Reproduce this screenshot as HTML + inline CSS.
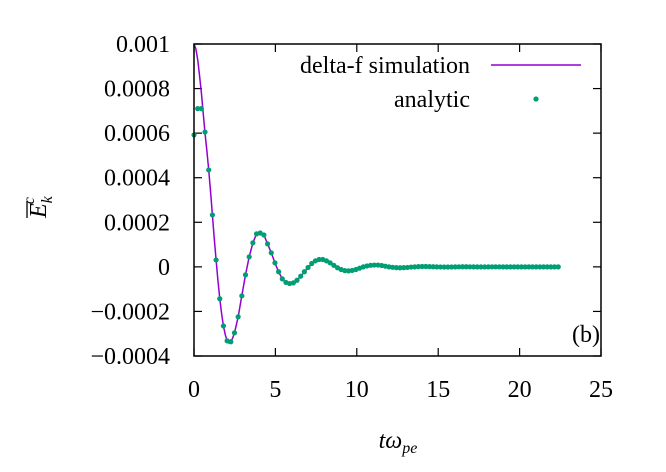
<!DOCTYPE html>
<html><head><meta charset="utf-8"><style>
body{margin:0;background:#fff}
svg text{font-family:"Liberation Serif",serif;fill:#000}
</style></head><body>
<svg id="chart" width="666" height="467" viewBox="0 0 666 467" xmlns="http://www.w3.org/2000/svg">
<g id="ticks"></g>
<polyline id="simline" fill="none" stroke="#9400d3" stroke-width="1.5" stroke-linejoin="round"/>
<g id="pts"></g>
<rect x="194" y="44" width="407" height="312" fill="none" stroke="#000" stroke-width="1.5"/>
<text x="470" y="73" font-size="24" text-anchor="end">delta-f simulation</text>
<line x1="491" y1="65" x2="581" y2="65" stroke="#9400d3" stroke-width="1.5"/>
<text x="470" y="107" font-size="24" text-anchor="end">analytic</text>
<circle cx="536" cy="99" r="2.6" fill="#009e73"/>
<text x="600" y="342" font-size="24" text-anchor="end">(b)</text>
<text x="398" y="448" font-size="24" text-anchor="middle" font-style="italic">tω<tspan font-size="16" dy="5">pe</tspan></text>
<g transform="translate(46,218) rotate(-90)">
<text x="0" y="0" font-size="24" font-style="italic">E<tspan font-size="16" dy="6">k</tspan><tspan font-size="16" dx="-8" dy="-18">c</tspan></text>
<line x1="0" y1="-19" x2="17" y2="-19" stroke="#000" stroke-width="1.3"/>
</g>
</svg>
<script>
const dt = 0.226;
const xTicks = [0,5,10,15,20,25];
const yTicks = [0.001,0.0008,0.0006,0.0004,0.0002,0,-0.0002,-0.0004];
const yTickLabels = ["0.001","0.0008","0.0006","0.0004","0.0002","0","\u22120.0002","\u22120.0004"];
// values in units of 1e-4
const analytic = [5.92,7.10,7.10,6.05,4.35,2.33,0.31,-1.43,-2.65,-3.32,-3.36,-2.96,-2.24,-1.30,-0.36,0.45,1.08,1.48,1.52,1.43,1.03,0.63,0.18,-0.22,-0.54,-0.70,-0.75,-0.72,-0.60,-0.42,-0.22,-0.03,0.15,0.27,0.33,0.33,0.27,0.18,0.07,-0.04,-0.12,-0.17,-0.18,-0.16,-0.12,-0.06,0.0,0.04,0.07,0.08,0.08,0.06,0.03,0.0,-0.02,-0.035,-0.04,-0.035,-0.025,-0.01,0.0,0.01,0.015,0.015,0.01,0.005,0,-0.005,-0.008,-0.008,-0.005,0,0.003,0.004,0.004,0.002,0,-0.002,-0.002,-0.002,0,0.001,0.001,0.001,0,0,0,0,0,0,0,0,0,0,0,0,0,0,0,0];
// early simulation samples (finer time step), then it follows the analytic values
const simTimes = [0,0.113,0.226,0.339,0.452,0.565,0.678,0.791,0.904,1.017,1.13,1.243,1.356,1.469,1.582,1.695,1.808,1.921,2.034,2.147,2.26,2.373];
const simValues = [10.0,9.8,9.3,8.6,7.8,6.9,6.0,5.2,4.35,3.35,2.33,1.3,0.31,-0.6,-1.43,-2.1,-2.65,-3.05,-3.32,-3.42,-3.36,-3.2];
const NS="http://www.w3.org/2000/svg";
const X = t => 194 + t/25*407;
const Y = v => 356 - (v+0.0004)/0.0014*312;
const tk = document.getElementById('ticks');
function mk(tag, attrs, parent){const e=document.createElementNS(NS,tag);for(const k in attrs)e.setAttribute(k,attrs[k]);parent.appendChild(e);return e;}
xTicks.forEach(t=>{
  const g=mk('g',{},tk);
  
  
  mk('line',{x1:X(t),x2:X(t),y1:356,y2:348,stroke:'#000','stroke-width':1.2},g);
  mk('line',{x1:X(t),x2:X(t),y1:44,y2:52,stroke:'#000','stroke-width':1.2},g);
  const tx=mk('text',{x:X(t),y:397,'font-size':24,'text-anchor':'middle'},g);
  tx.textContent=t;
});
yTicks.forEach((v,i)=>{
  const g=mk('g',{},tk);
  
  
  mk('line',{x1:194,x2:202,y1:Y(v),y2:Y(v),stroke:'#000','stroke-width':1.2},g);
  mk('line',{x1:601,x2:593,y1:Y(v),y2:Y(v),stroke:'#000','stroke-width':1.2},g);
  const tx=mk('text',{x:170,y:Y(v)+8,'font-size':24,'text-anchor':'end'},g);
  tx.textContent=yTickLabels[i];
});
const simPts = simTimes.map((t,i)=>[t,simValues[i]]);
analytic.forEach((v,i)=>{ if(i*dt>simTimes[simTimes.length-1]+0.01) simPts.push([i*dt,v]); });
document.getElementById('simline').setAttribute('points',simPts.map(p=>X(p[0]).toFixed(1)+','+Y(p[1]*1e-4).toFixed(1)).join(' '));
const pts=document.getElementById('pts');
analytic.forEach((v,i)=>{
  const c=mk('circle',{cx:X(i*dt),cy:Y(v*1e-4),r:2.6,fill:'#009e73'},pts);
  
  
});
</script>
</body></html>
